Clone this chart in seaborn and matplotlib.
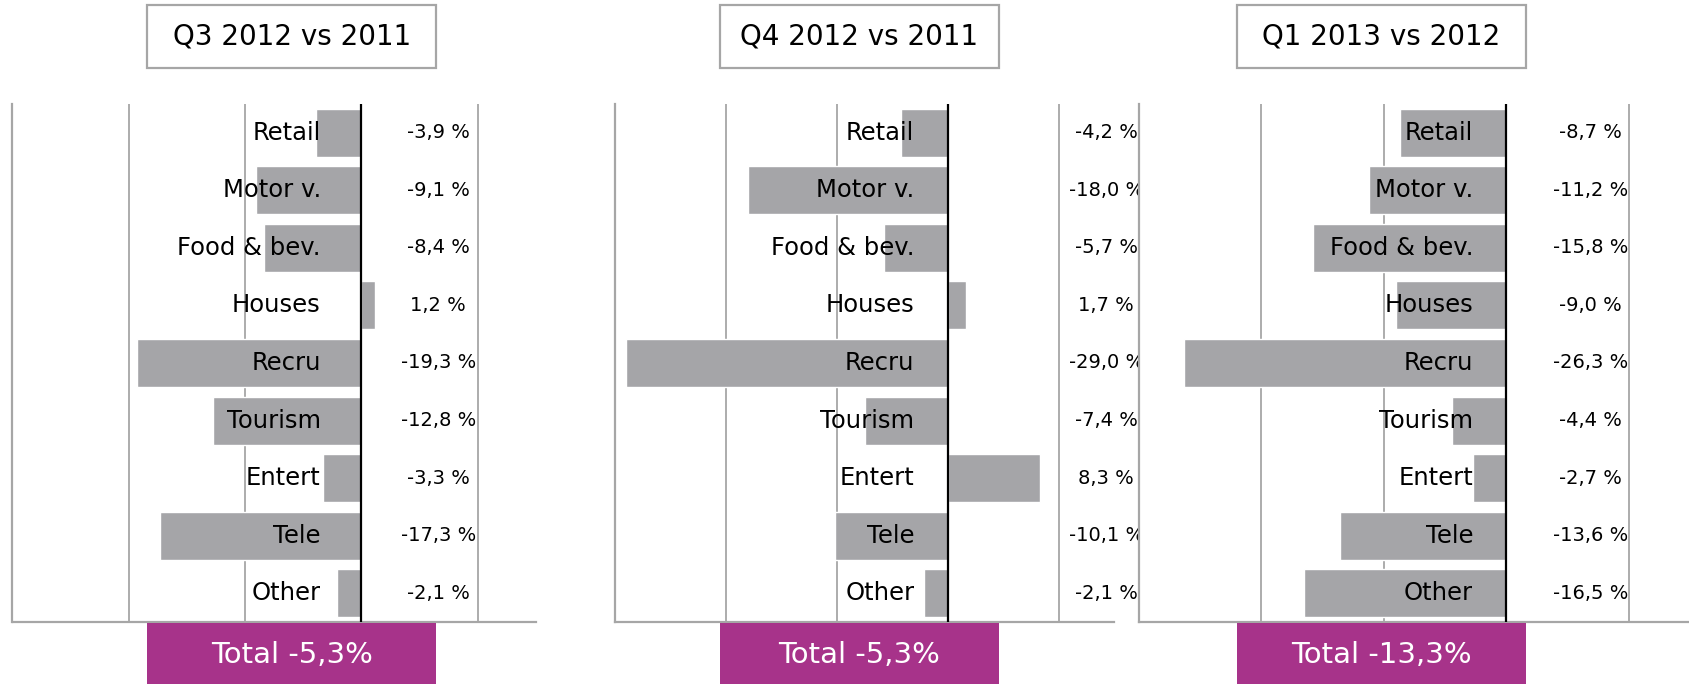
import matplotlib
matplotlib.use("Agg")
import matplotlib.pyplot as plt
import numpy as np
import pandas as pd
import seaborn as sns
from matplotlib.patches import Rectangle

CATEGORIES = ["Retail", "Motor v.", "Food & bev.", "Houses", "Recru",
              "Tourism", "Entert", "Tele", "Other"]
Q3_2012 = [-3.9, -9.1, -8.4, 1.2, -19.3, -12.8, -3.3, -17.3, -2.1]
Q4_2012 = [-4.2, -18.0, -5.7, 1.7, -29.0, -7.4, 8.3, -10.1, -2.1]
Q1_2013 = [-8.7, -11.2, -15.8, -9.0, -26.3, -4.4, -2.7, -13.6, -16.5]
TITLES = ["Q3 2012 vs 2011", "Q4 2012 vs 2011", "Q1 2013 vs 2012"]
TOTALS = ["Total -5,3%", "Total -5,3%", "Total -13,3%"]

BAR_COLOR = "#a5a5a8"
GRID_COLOR = "#a6a6a6"
PURPLE = "#a7338a"

W, H = 1690, 684
sns.set_theme(style="white")
plt.rcParams["font.family"] = ["DejaVu Sans"]

fig = plt.figure(figsize=(W / 100, H / 100), dpi=100)

# layout in pixels: (axes left, axes width, category label x, value label x,
#                    box left, box right)
panels = [
    (12.5, 523.5, -3.5, 6.6, 147.5, 436),
    (614.6, 499.5, -3.0, 14.3, 720, 999),
    (1138.9, 551.1, -2.7, 6.9, 1237, 1526),
]
top_px, bottom_px = 104, 622

for (left, width, cat_x, lab_x, bx0, bx1), values, title, total in zip(
        panels, [Q3_2012, Q4_2012, Q1_2013], TITLES, TOTALS):
    ax = fig.add_axes([left / W, (H - bottom_px) / H, width / W,
                       (bottom_px - top_px) / H])
    df = pd.DataFrame({"cat": CATEGORIES, "val": values})
    sns.barplot(data=df, x="val", y="cat", orient="h", color=BAR_COLOR,
                saturation=1, width=0.835, ax=ax, zorder=2)
    ax.set_xlim(-30, 15)
    ax.set_ylim(8.5, -0.5)
    for gx in (-20, -10, 10):
        ax.axvline(gx, color=GRID_COLOR, lw=1.3, zorder=1)
    ax.axvline(0, color="black", lw=1.6, zorder=3)
    ax.set_xticks([])
    ax.set_yticks([])
    ax.set_xlabel("")
    ax.set_ylabel("")
    for side in ("top", "right"):
        ax.spines[side].set_visible(False)
    for side in ("left", "bottom"):
        ax.spines[side].set_color(GRID_COLOR)
        ax.spines[side].set_linewidth(1.6)

    for i, (cat, v) in enumerate(zip(CATEGORIES, values)):
        ax.text(cat_x, i, cat, ha="right", va="center", fontsize=17.5,
                color="black", zorder=4)
        label = f"{v:.1f}".replace(".", ",") + " %"
        ax.text(lab_x, i, label, ha="center", va="center", fontsize=14,
                color="black", clip_on=False, zorder=4)

    # title box
    fig.patches.append(Rectangle((bx0 / W, (H - 68) / H), (bx1 - bx0) / W,
                                 63 / H, transform=fig.transFigure,
                                 facecolor="white", edgecolor=GRID_COLOR,
                                 lw=1.6))
    fig.text((bx0 + bx1) / 2 / W, (H - 36) / H, title, ha="center",
             va="center", fontsize=20, color="black")

    # total box
    fig.patches.append(Rectangle((bx0 / W, 0), (bx1 - bx0) / W, 61 / H,
                                 transform=fig.transFigure,
                                 facecolor=PURPLE, edgecolor="none"))
    fig.text((bx0 + bx1) / 2 / W, 29 / H, total, ha="center", va="center",
             fontsize=21, color="white")

fig.savefig("out.png", dpi=100)
